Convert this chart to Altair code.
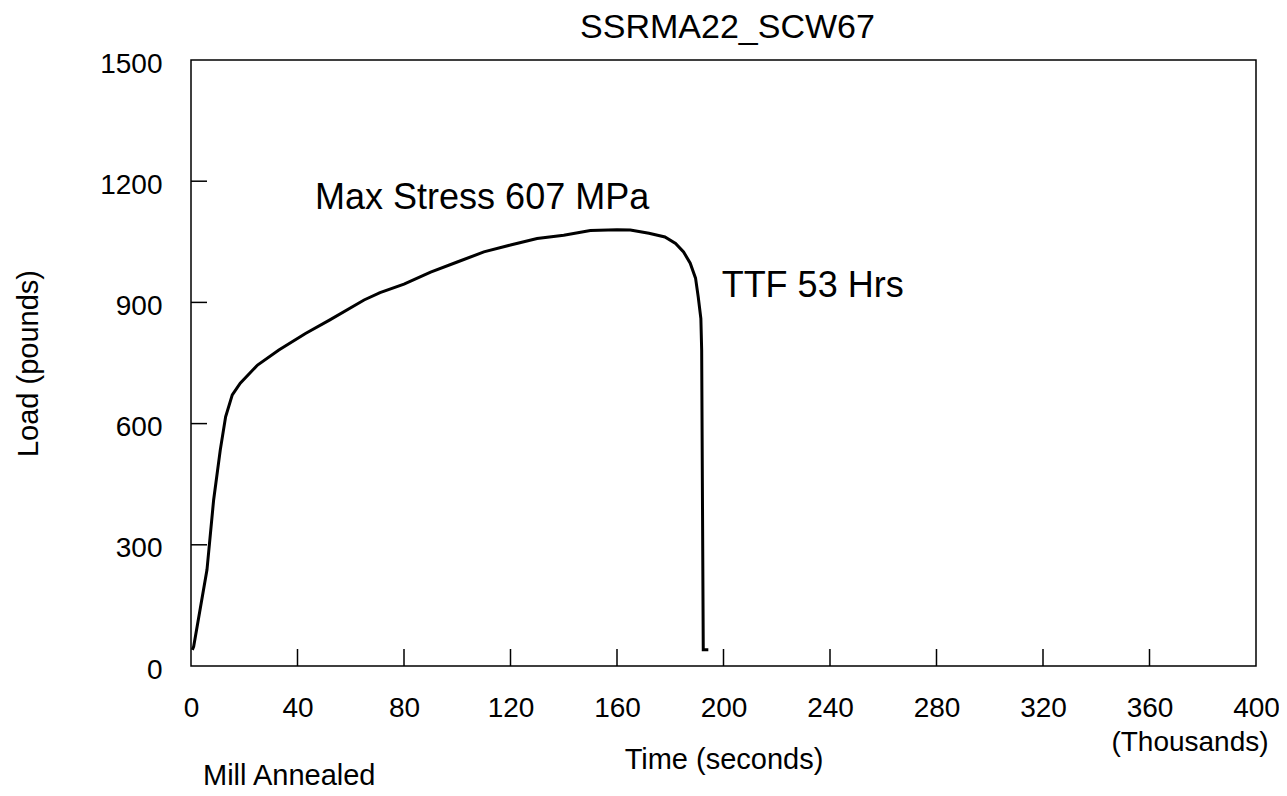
import altair as alt
import pandas as pd

FONT = "Liberation Sans"

# Curve: time in thousands of seconds, load in pounds
time_k = [0.5, 1, 6, 8.5, 11, 13, 15.5, 18.5, 25, 33, 43, 52, 65, 71, 80, 90, 100,
          110, 120, 130, 140, 150, 160, 165, 172, 178, 182, 185, 187.5, 189.5,
          190.5, 191.5, 191.8, 192.4, 194.3]
load_lb = [40, 48, 238, 411, 535, 617, 671, 700, 745, 782, 823, 856, 906, 924, 945,
           975, 1000, 1025, 1042, 1058, 1066, 1078, 1080, 1079, 1071, 1062, 1046,
           1025, 997, 960, 914, 860, 782, 40, 40]

x_labels = [0, 40, 80, 120, 160, 200, 240, 280, 320, 360, 400]
y_labels = [0, 300, 600, 900, 1200, 1500]
x_ticks = [40, 80, 120, 160, 200, 240, 280, 320, 360]
y_ticks = [300, 600, 900, 1200]

title_text = "SSRMA22_SCW67"
ann_text = ["Max Stress 607 MPa", "TTF 53 Hrs"]
ann_t = [46.6, 199.3]
ann_load = [1130, 914]

W, H = 1065, 606

curve = pd.DataFrame({"t": time_k, "load": load_lb})
xt = pd.DataFrame({"v": x_ticks})
yt = pd.DataFrame({"v": y_ticks})
ann = pd.DataFrame({"t": ann_t, "load": ann_load, "label": ann_text})

xs = alt.Scale(domain=[0, 400], nice=False, zero=False)
ys = alt.Scale(domain=[0, 1500], nice=False)

x_axis = alt.Axis(values=x_labels, title="Time (seconds)", tickSize=0, domain=False,
                  grid=False, labelFontSize=28, labelFont=FONT, labelColor="black",
                  labelPadding=28, labelFlush=False, labelOverlap=False, format="d",
                  titleFontSize=29, titleFont=FONT, titleFontWeight="normal",
                  titleColor="black", titleY=102, titleBaseline="alphabetic")
y_axis = alt.Axis(values=y_labels, title="Load (pounds)", tickSize=0, domain=False,
                  grid=False, labelFontSize=28, labelFont=FONT, labelColor="black",
                  labelPadding=29, labelOffset=4, labelFlush=False, labelOverlap=False,
                  format="d",
                  titleFontSize=29, titleFont=FONT, titleFontWeight="normal",
                  titleColor="black", titleX=-154, titleY=H / 2,
                  titleBaseline="alphabetic")

line = alt.Chart(curve).mark_line(color="black", strokeWidth=3).encode(
    x=alt.X("t:Q", scale=xs, axis=x_axis),
    y=alt.Y("load:Q", scale=ys, axis=y_axis),
    order="t:Q",
)

xtick = alt.Chart(xt).mark_rule(color="black", strokeWidth=1.5).encode(
    x=alt.X("v:Q", scale=xs), y=alt.value(H), y2=alt.value(H - 17))
ytick = alt.Chart(yt).mark_rule(color="black", strokeWidth=1.5).encode(
    y=alt.Y("v:Q", scale=ys), x=alt.value(0), x2=alt.value(16))

anns = alt.Chart(ann).mark_text(font=FONT, fontSize=36, align="left",
                                baseline="alphabetic", color="black").encode(
    x=alt.X("t:Q", scale=xs), y=alt.Y("load:Q", scale=ys), text="label:N")

title = alt.Chart(pd.DataFrame({"s": [title_text]})).mark_text(
    font=FONT, fontSize=34, align="center", baseline="alphabetic", color="black").encode(
    x=alt.value(W / 2 + 4), y=alt.value(-22), text="s:N")

thous = alt.Chart(pd.DataFrame({"s": ["(Thousands)"]})).mark_text(
    font=FONT, fontSize=28, align="center", baseline="alphabetic", color="black").encode(
    x=alt.value(999), y=alt.value(691), text="s:N")

mill = alt.Chart(pd.DataFrame({"s": ["Mill Annealed"]})).mark_text(
    font=FONT, fontSize=29, align="left", baseline="alphabetic", color="black").encode(
    x=alt.value(12), y=alt.value(H + 119), text="s:N")

chart = alt.layer(line, xtick, ytick, anns, title, thous, mill).properties(
    width=W, height=H,
    padding={"left": 183, "top": 52, "right": 23, "bottom": 128},
    autosize=alt.AutoSizeParams(type="none"),
    background="white",
).configure_view(stroke="black", strokeWidth=1.5)

chart.save("out.html", embed_options={"renderer": "svg", "actions": False})
